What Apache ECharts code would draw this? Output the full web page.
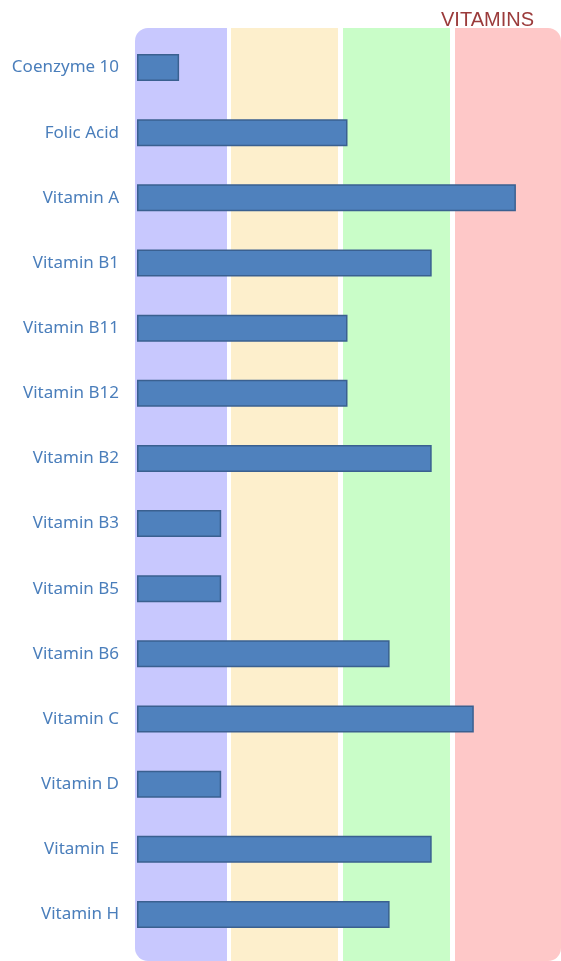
<!DOCTYPE html>
<html>
<head>
<meta charset="utf-8">
<script src="https://cdn.jsdelivr.net/npm/echarts@6/dist/echarts.min.js"></script>
<style>
  html, body { margin: 0; padding: 0; background: #fff; }
  #chart { width: 561px; height: 961px; }
</style>
</head>
<body>
<div id="chart"></div>
<script>
const categories = ['Coenzyme 10', 'Folic Acid', 'Vitamin A', 'Vitamin B1', 'Vitamin B11',
  'Vitamin B12', 'Vitamin B2', 'Vitamin B3', 'Vitamin B5', 'Vitamin B6',
  'Vitamin C', 'Vitamin D', 'Vitamin E', 'Vitamin H']
const values = [1, 5, 9, 7, 5, 5, 7, 2, 2, 6, 8, 2, 7, 6]
// background zones, in axis units
const zones = [[-0.05, 2.13], [2.24, 4.78], [4.9, 7.44], [7.56, 10.1]]
const zoneColors = ['#c8c8fe', '#fdefcc', '#c9fdc8', '#fec8c8']

let chart = echarts.init(document.getElementById('chart'))
let option = {
  animation: false,
  title: {
    text: 'VITAMINS',
    right: 22,
    top: 5,
    textStyle: { color: '#9b3b3b', fontSize: 20, fontWeight: 'normal', fontFamily: 'Liberation Sans' }
  },
  grid: { left: 137, right: 3, top: 35, bottom: 14 },
  xAxis: {
    type: 'value',
    min: 0,
    max: 10,
    show: false
  },
  yAxis: {
    type: 'category',
    data: categories,
    inverse: true,
    axisLine: { show: false },
    axisTick: { show: false },
    axisLabel: { color: '#4a7ebb', fontSize: 17, fontFamily: 'Noto Sans', margin: 18 }
  },
  series: [{
    type: 'bar',
    data: values,
    barWidth: 27,
    z: 5,
    itemStyle: { color: '#4f81bd', borderColor: '#3a6090', borderWidth: 1.5 }
  }]
}
chart.setOption(option)

// draw the coloured zones behind the bars
let zoneTop = 28, zoneBottom = 961, rr = 13
let rects = zones.map(function (z, i) {
  let x0 = Math.round(chart.convertToPixel({ xAxisIndex: 0 }, z[0]))
  let x1 = Math.round(chart.convertToPixel({ xAxisIndex: 0 }, z[1]))
  if (i === zones.length - 1) x1 = 561
  let rad = [0, 0, 0, 0]
  if (i === 0) rad = [rr, 0, 0, rr]
  if (i === zones.length - 1) rad = [0, rr, rr, 0]
  return {
    type: 'rect',
    z: -10,
    shape: { x: x0, y: zoneTop, width: x1 - x0, height: zoneBottom - zoneTop, r: rad },
    style: { fill: zoneColors[i] }
  }
})
chart.setOption({ graphic: rects })
</script>
</body>
</html>
